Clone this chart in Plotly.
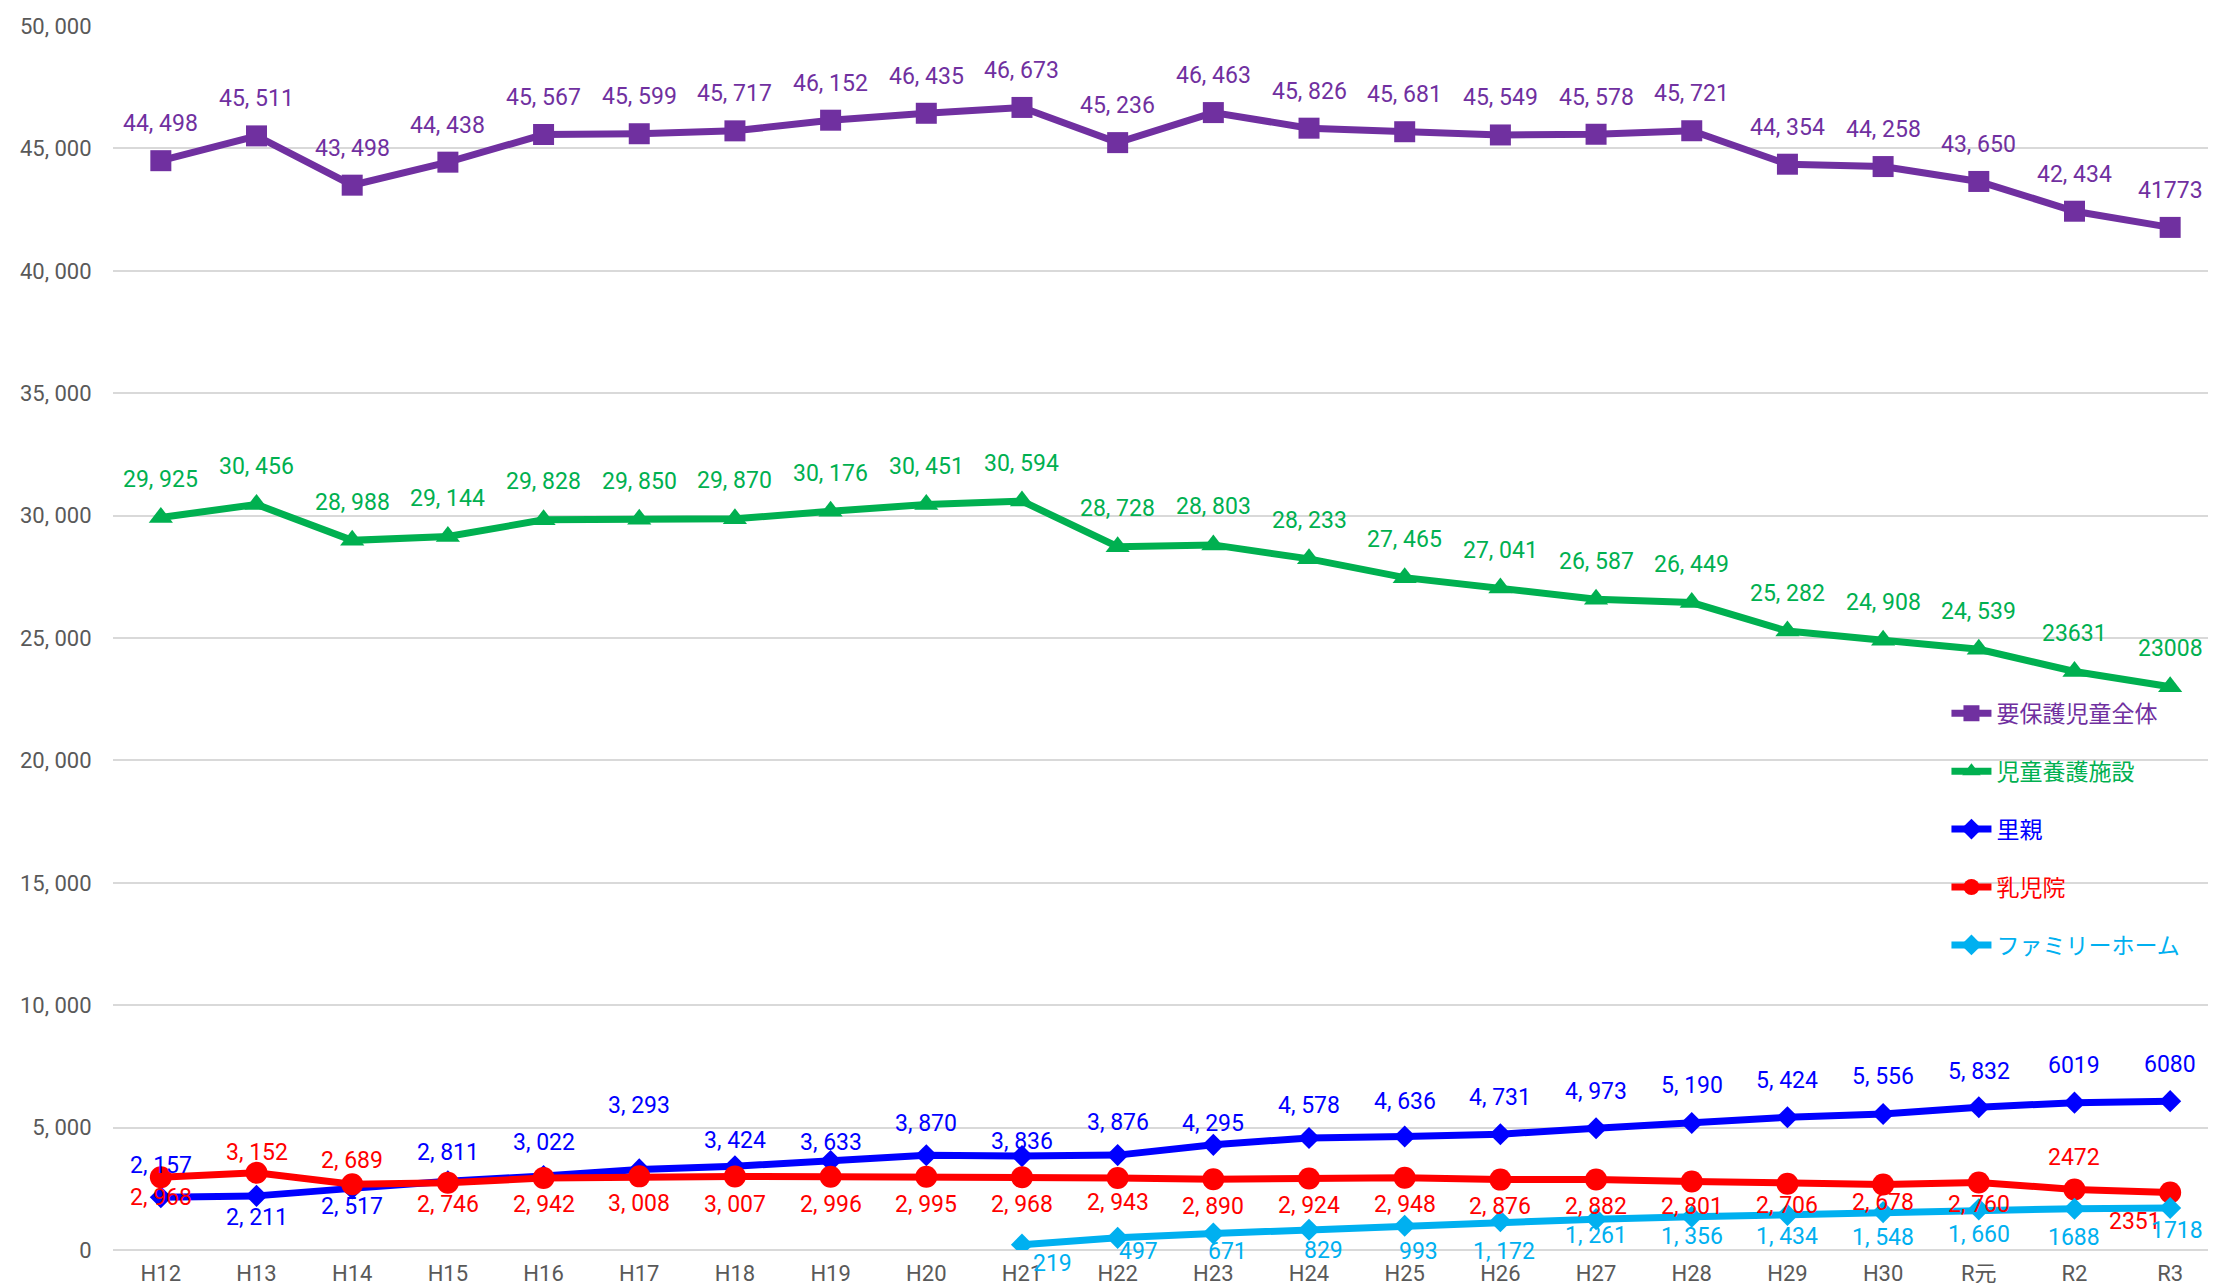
import plotly.graph_objects as go

# ---------------- data ----------------
categories = ["H12", "H13", "H14", "H15", "H16", "H17", "H18", "H19", "H20", "H21", "H22",
              "H23", "H24", "H25", "H26", "H27", "H28", "H29", "H30", "R元", "R2", "R3"]

total = [44498, 45511, 43498, 44438, 45567, 45599, 45717, 46152, 46435, 46673, 45236,
         46463, 45826, 45681, 45549, 45578, 45721, 44354, 44258, 43650, 42434, 41773]
shisetsu = [29925, 30456, 28988, 29144, 29828, 29850, 29870, 30176, 30451, 30594, 28728,
            28803, 28233, 27465, 27041, 26587, 26449, 25282, 24908, 24539, 23631, 23008]
satooya = [2157, 2211, 2517, 2811, 3022, 3293, 3424, 3633, 3870, 3836, 3876,
           4295, 4578, 4636, 4731, 4973, 5190, 5424, 5556, 5832, 6019, 6080]
nyujiin = [2968, 3152, 2689, 2746, 2942, 3008, 3007, 2996, 2995, 2968, 2943,
           2890, 2924, 2948, 2876, 2882, 2801, 2706, 2678, 2760, 2472, 2351]
family = [None, None, None, None, None, None, None, None, None, 219, 497,
          671, 829, 993, 1172, 1261, 1356, 1434, 1548, 1660, 1688, 1718]

total_labels = ["44, 498", "45, 511", "43, 498", "44, 438", "45, 567", "45, 599", "45, 717",
                "46, 152", "46, 435", "46, 673", "45, 236", "46, 463", "45, 826", "45, 681",
                "45, 549", "45, 578", "45, 721", "44, 354", "44, 258", "43, 650", "42, 434", "41773"]
shisetsu_labels = ["29, 925", "30, 456", "28, 988", "29, 144", "29, 828", "29, 850", "29, 870",
                   "30, 176", "30, 451", "30, 594", "28, 728", "28, 803", "28, 233", "27, 465",
                   "27, 041", "26, 587", "26, 449", "25, 282", "24, 908", "24, 539", "23631", "23008"]
satooya_labels = ["2, 157", "2, 211", "2, 517", "2, 811", "3, 022", "3, 293", "3, 424", "3, 633",
                  "3, 870", "3, 836", "3, 876", "4, 295", "4, 578", "4, 636", "4, 731", "4, 973",
                  "5, 190", "5, 424", "5, 556", "5, 832", "6019", "6080"]
nyujiin_labels = ["2, 968", "3, 152", "2, 689", "2, 746", "2, 942", "3, 008", "3, 007", "2, 996",
                  "2, 995", "2, 968", "2, 943", "2, 890", "2, 924", "2, 948", "2, 876", "2, 882",
                  "2, 801", "2, 706", "2, 678", "2, 760", "2472", "2351"]
family_labels = [None, None, None, None, None, None, None, None, None, "219", "497",
                 "671", "829", "993", "1, 172", "1, 261", "1, 356", "1, 434", "1, 548",
                 "1, 660", "1688", "1718"]

series_names = ["要保護児童全体", "児童養護施設", "里親", "乳児院", "ファミリーホーム"]

y_tick_values = [0, 5000, 10000, 15000, 20000, 25000, 30000, 35000, 40000, 45000, 50000]
y_tick_labels = ["0", "5, 000", "10, 000", "15, 000", "20, 000", "25, 000", "30, 000",
                 "35, 000", "40, 000", "45, 000", "50, 000"]

# ---------------- styles (label offsets in px: dx, dy up) ----------------
n = len(categories)
off_total = [(0, 37)] * n
off_shisetsu = [(0, 38)] * n
off_satooya = [(0, d) for d in [32, -22, -18, 29, 34, 64, 26, 19, 32, 15, 33,
                                21, 32, 35, 37, 37, 37, 37, 37, 36, 37, 37]]
off_nyujiin = [(0, d) for d in [-20, 20, 24, -22, -27, -27, -28, -28, -28, -27, -25,
                                -27, -27, -27, -27, -27, -25, -22, -18, -22, 32]] + [(-35, -29)]
off_family = [(0, 0)] * 9 + [(31, -19), (21, -14), (14, -18), (14, -21), (14, -26), (4, -30),
                             (0, -16), (0, -20), (0, -22), (0, -25), (0, -25), (0, -29), (7, -23)]

colors = ["#7030A0", "#00B050", "#0000FF", "#FF0000", "#00B0F0"]
symbols = ["square", "triangle-up", "diamond", "circle", "diamond"]
msizes = [21, 21, 17, 22, 17]

NUM_FONT = "Liberation Sans Narrow, Arial Narrow, Roboto, Noto Sans CJK JP, sans-serif"
CJK_FONT = "Noto Sans CJK JP, sans-serif"

all_values = [total, shisetsu, satooya, nyujiin, family]
all_labels = [total_labels, shisetsu_labels, satooya_labels, nyujiin_labels, family_labels]
all_offsets = [off_total, off_shisetsu, off_satooya, off_nyujiin, off_family]

fig = go.Figure()
annotations = []
for i, (name, vals, labs, offs) in enumerate(zip(series_names, all_values, all_labels, all_offsets)):
    fig.add_trace(go.Scatter(
        x=categories, y=vals, mode="lines+markers",
        name=f"<span style='color:{colors[i]}'>{name}</span>",
        legendgroup=f"g{i}",
        line=dict(color=colors[i], width=7),
        marker=dict(symbol=symbols[i], size=msizes[i], color=colors[i]),
        connectgaps=False,
        hoverinfo="x+y",
    ))
    for cat, v, lab, (dx, dy) in zip(categories, vals, labs, offs):
        if v is None or lab is None:
            continue
        annotations.append(dict(
            x=cat, y=v, xref="x", yref="y", text=lab, showarrow=False,
            xshift=dx, yshift=dy, xanchor="center", yanchor="middle",
            font=dict(family=NUM_FONT, size=23, color=colors[i]),
        ))

fig.update_layout(
    width=2216, height=1283,
    margin=dict(l=105, r=6, t=18, b=41),
    paper_bgcolor="white", plot_bgcolor="white",
    showlegend=True,
    legend=dict(
        x=0.871, y=0.456, xanchor="left", yanchor="top",
        font=dict(family=CJK_FONT, size=23),
        traceorder="grouped", tracegroupgap=25,
        bgcolor="rgba(0,0,0,0)", itemwidth=40,
    ),
    annotations=annotations,
    xaxis=dict(
        type="category", categoryorder="array", categoryarray=categories,
        range=[-0.5, n - 0.5],
        showgrid=False, showline=False, zeroline=False,
        ticks="outside", ticklen=4, tickcolor="rgba(0,0,0,0)",
        tickfont=dict(family=NUM_FONT, size=22, color="#595959"),
    ),
    yaxis=dict(
        range=[0, 50000], tickvals=y_tick_values, ticktext=y_tick_labels,
        showgrid=True, gridcolor="#D9D9D9", gridwidth=2,
        zeroline=True, zerolinecolor="#D9D9D9", zerolinewidth=2,
        showline=False, ticks="outside", ticklen=16, tickcolor="rgba(0,0,0,0)",
        tickfont=dict(family=NUM_FONT, size=22, color="#595959"),
    ),
)

fig.write_html("out.html")
